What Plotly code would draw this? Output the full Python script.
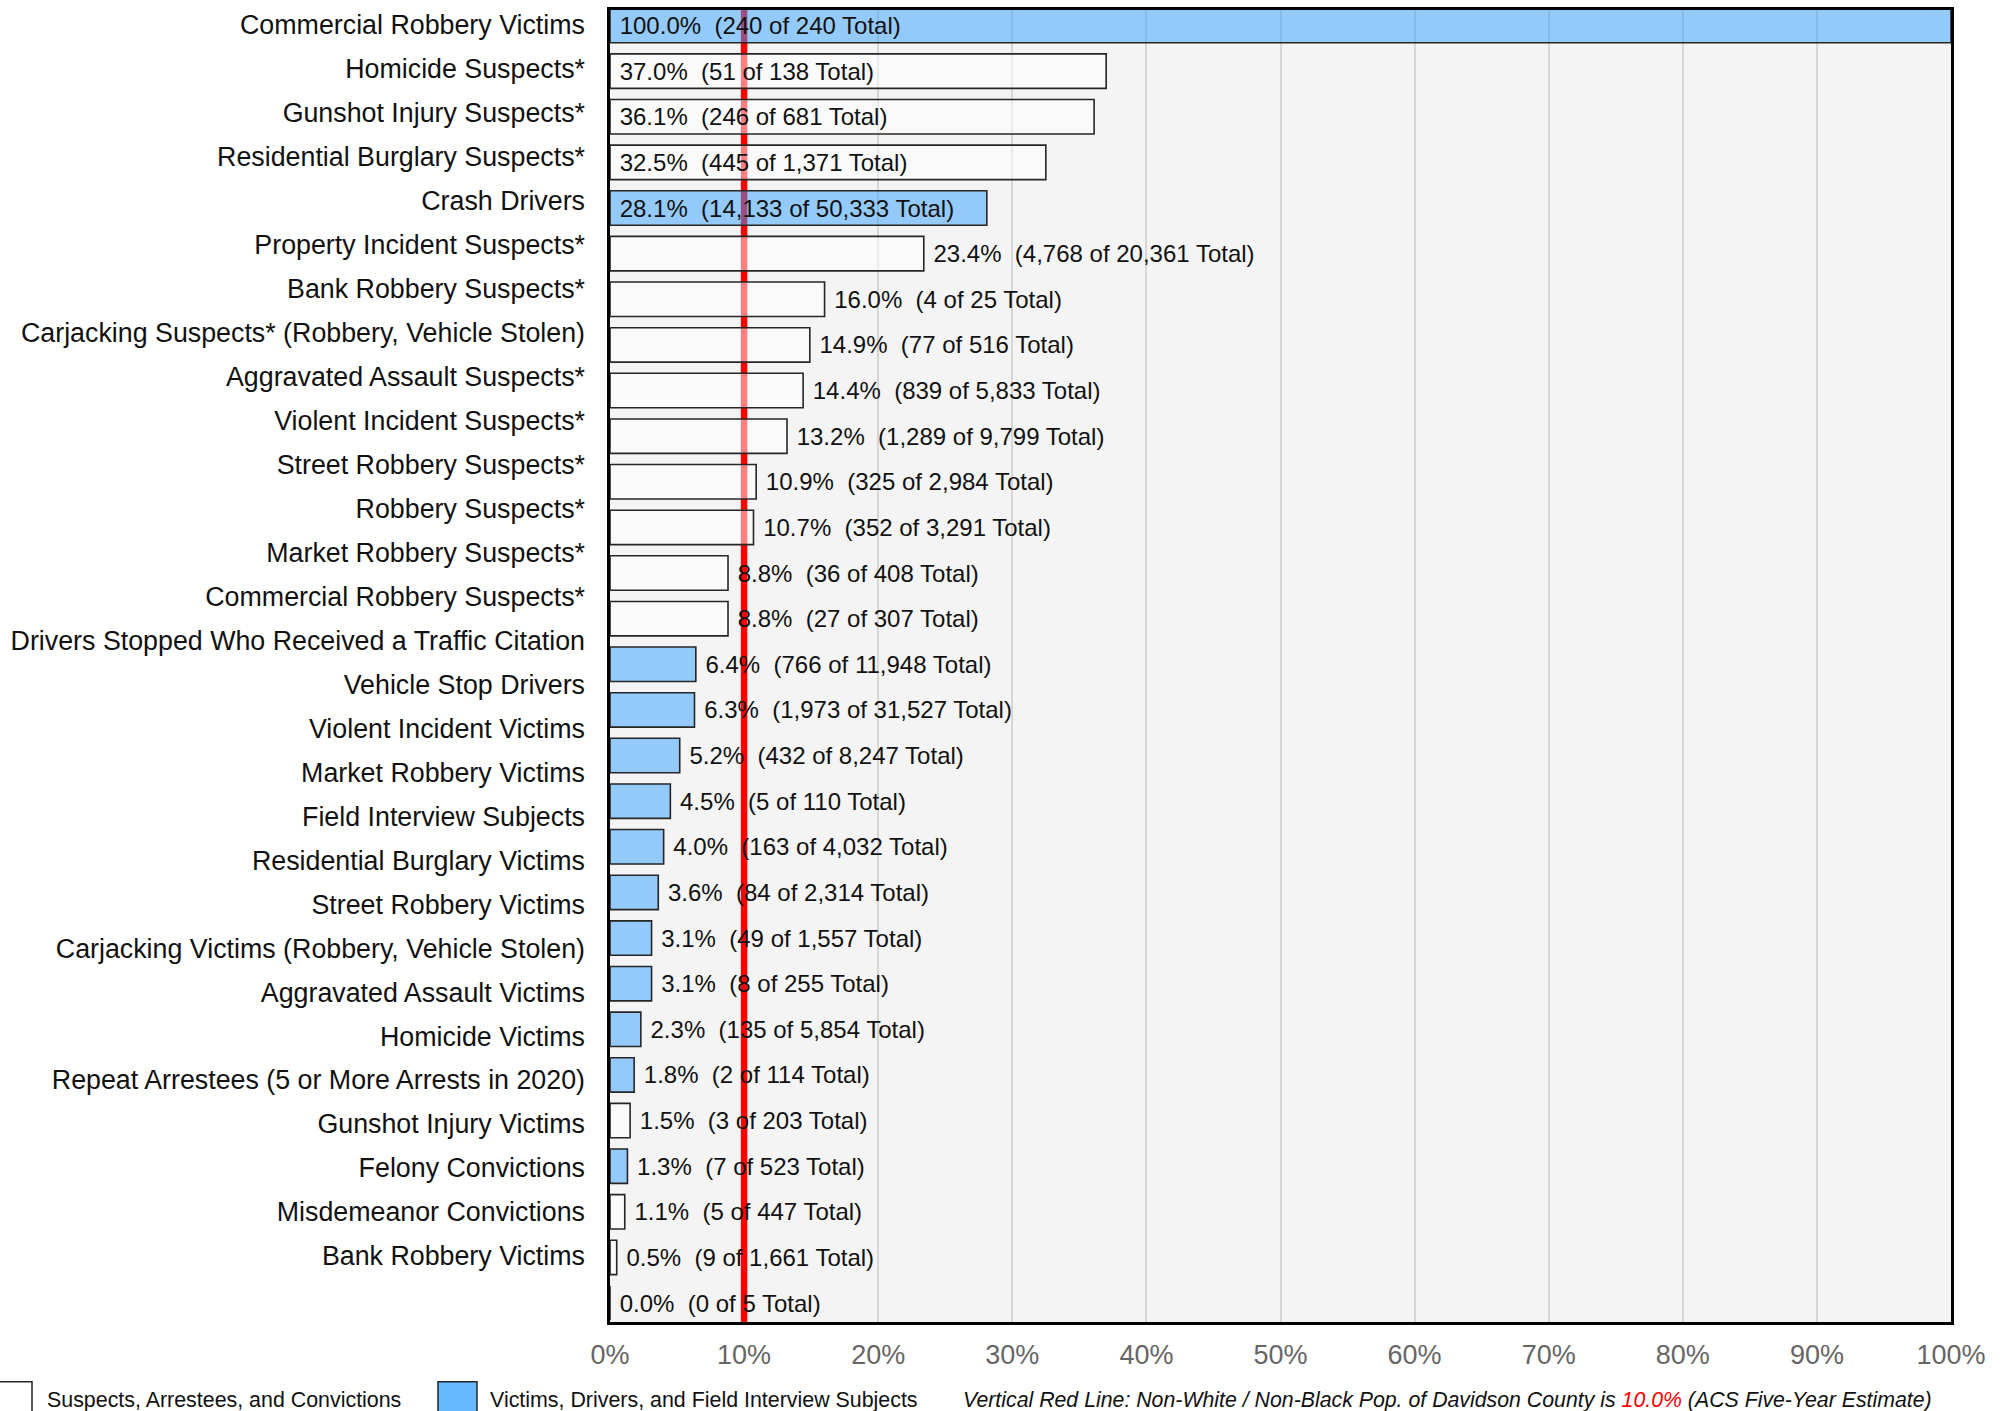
import plotly.graph_objects as go

# ---- data -------------------------------------------------------------
categories = [
    "Commercial Robbery Victims",
    "Homicide Suspects*",
    "Gunshot Injury Suspects*",
    "Residential Burglary Suspects*",
    "Crash Drivers",
    "Property Incident Suspects*",
    "Bank Robbery Suspects*",
    "Carjacking Suspects* (Robbery, Vehicle Stolen)",
    "Aggravated Assault Suspects*",
    "Violent Incident Suspects*",
    "Street Robbery Suspects*",
    "Robbery Suspects*",
    "Market Robbery Suspects*",
    "Commercial Robbery Suspects*",
    "Drivers Stopped Who Received a Traffic Citation",
    "Vehicle Stop Drivers",
    "Violent Incident Victims",
    "Market Robbery Victims",
    "Field Interview Subjects",
    "Residential Burglary Victims",
    "Street Robbery Victims",
    "Carjacking Victims (Robbery, Vehicle Stolen)",
    "Aggravated Assault Victims",
    "Homicide Victims",
    "Repeat Arrestees (5 or More Arrests in 2020)",
    "Gunshot Injury Victims",
    "Felony Convictions",
    "Misdemeanor Convictions",
    "Bank Robbery Victims",
]

pct = [100.0, 37.0, 36.1, 32.5, 28.1, 23.4, 16.0, 14.9, 14.4, 13.2, 10.9, 10.7,
       8.8, 8.8, 6.4, 6.3, 5.2, 4.5, 4.0, 3.6, 3.1, 3.1, 2.3, 1.8, 1.5, 1.3,
       1.1, 0.5, 0.0]

counts = [240, 51, 246, 445, 14133, 4768, 4, 77, 839, 1289, 325, 352, 36, 27,
          766, 1973, 432, 5, 163, 84, 49, 8, 135, 2, 3, 7, 5, 9, 0]

totals = [240, 138, 681, 1371, 50333, 20361, 25, 516, 5833, 9799, 2984, 3291,
          408, 307, 11948, 31527, 8247, 110, 4032, 2314, 1557, 255, 5854, 114,
          203, 523, 447, 1661, 5]

# "S" = suspects / arrestees / convictions, "V" = victims / drivers / FI subjects
groups = ["V", "S", "S", "S", "V", "S", "S", "S", "S", "S", "S", "S", "S", "S",
          "V", "V", "V", "V", "V", "V", "V", "V", "V", "V", "S", "V", "S", "S",
          "V"]

x_ticks = [0, 10, 20, 30, 40, 50, 60, 70, 80, 90, 100]

pop_share = 10.0  # Non-White / Non-Black share of Davidson County population

legend_names = {"S": "Suspects, Arrestees, and Convictions",
                "V": "Victims, Drivers, and Field Interview Subjects"}

# ---- styling ----------------------------------------------------------
W, H = 2003, 1411
M_L, M_R, M_T, M_B = 610, 52, 7, 89
PLOT_W = W - M_L - M_R
PLOT_H = H - M_T - M_B

FILL = {"S": "rgba(255,255,255,0.5)", "V": "rgba(51,160,255,0.5)"}
SWATCH = {"S": "rgba(255,255,255,1)", "V": "rgba(51,160,255,0.75)"}
NB = "\u00a0"


def px_x(px):
    return (px - M_L) / PLOT_W


def px_y(py):
    return (H - M_B - py) / PLOT_H


positions = list(range(len(categories)))
labels = [
    f"{NB}{p:.1f}%{NB}{NB}({c:,} of {t:,} Total)"
    for p, c, t in zip(pct, counts, totals)
]
text_pos = ["inside" if p >= 25 else "outside" for p in pct]

fig = go.Figure()

fig.add_trace(go.Bar(
    x=pct,
    y=positions,
    orientation="h",
    width=0.755,
    marker=dict(color=[FILL[g] for g in groups],
                line=dict(color="#262626", width=1.6)),
    text=labels,
    textposition=text_pos,
    insidetextanchor="start",
    textangle=0,
    constraintext="none",
    cliponaxis=False,
    textfont=dict(family="Arial", size=24, color="#111111"),
    showlegend=False,
    hoverinfo="skip",
))

# category labels live on their own overlaid axis
fig.add_trace(go.Scatter(
    x=[0] * len(categories),
    y=positions,
    yaxis="y2",
    mode="markers",
    marker=dict(opacity=0),
    showlegend=False,
    hoverinfo="skip",
))

# population reference line (under the translucent bars, over the grid)
fig.add_shape(type="line", xref="x", yref="paper", x0=pop_share, x1=pop_share,
              y0=0, y1=1, layer="between",
              line=dict(color="#ff0000", width=6.5))

# legend swatches and texts
for key, (x0, x1, tx) in {"S": (-12, 32, 45), "V": (438, 477, 488)}.items():
    fig.add_shape(type="rect", xref="paper", yref="paper",
                  x0=px_x(x0), x1=px_x(x1), y0=px_y(1382), y1=px_y(1426),
                  fillcolor=SWATCH[key], line=dict(color="#262626", width=1.5),
                  layer="above")
    fig.add_annotation(xref="paper", yref="paper", x=px_x(tx), y=px_y(1400),
                       xanchor="left", yanchor="middle", showarrow=False,
                       text=legend_names[key],
                       font=dict(family="Arial", size=21.4, color="#111111"))

fig.add_annotation(
    xref="paper", yref="paper", x=px_x(961), y=px_y(1400),
    xanchor="left", yanchor="middle", showarrow=False,
    text=("<i>Vertical Red Line: Non-White / Non-Black Pop. of Davidson County is "
          f"<span style='color:#ff0000'>{pop_share:.1f}%</span> "
          "(ACS Five-Year Estimate)</i>"),
    font=dict(family="Arial", size=21.3, color="#111111"),
)

grid_vals = [v for v in x_ticks if 0 < v < 100 and v != pop_share]

fig.update_layout(
    width=W, height=H,
    margin=dict(l=M_L, r=M_R, t=M_T, b=M_B, pad=0),
    paper_bgcolor="white",
    plot_bgcolor="#f4f4f4",
    font=dict(family="Arial", color="#111111"),
    xaxis=dict(
        range=[0, 100], tickvals=x_ticks, ticktext=[f"{v}%" for v in x_ticks],
        showgrid=False,
        minor=dict(tickvals=grid_vals, showgrid=True, gridcolor="#d6d6d6",
                   gridwidth=2, ticks=""),
        zeroline=False, showline=True, mirror=True,
        linecolor="#000000", linewidth=3,
        ticks="", ticklabelstandoff=7,
        tickfont=dict(family="Arial", size=27, color="#666666"),
    ),
    yaxis=dict(
        range=[28.415, -0.34], showticklabels=False, showgrid=False,
        zeroline=False, showline=True, mirror=True,
        linecolor="#000000", linewidth=3, ticks="",
    ),
    yaxis2=dict(
        overlaying="y", anchor="x", side="left",
        range=[29.5, -0.33], tickvals=positions, ticktext=categories,
        showgrid=False, zeroline=False, showline=False, ticks="",
        ticklabelstandoff=24,
        tickfont=dict(family="Arial", size=26.8, color="#111111"),
    ),
)

fig.write_html("out.html")
